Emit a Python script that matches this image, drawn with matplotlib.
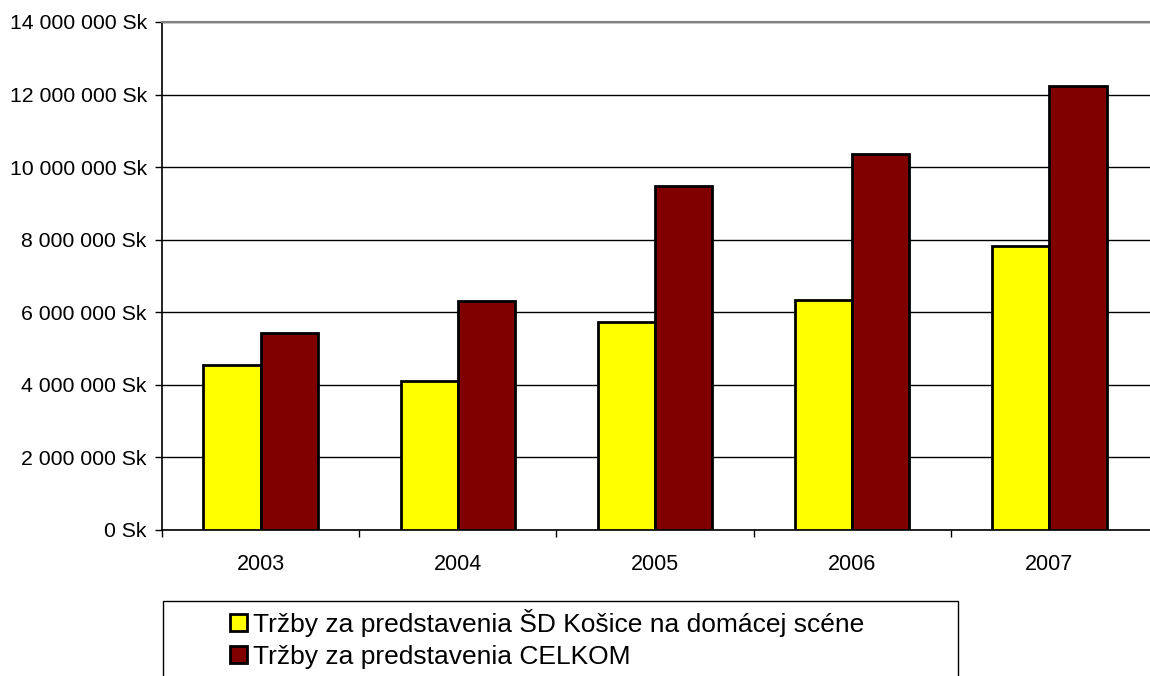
import numpy as np
import matplotlib
matplotlib.use('Agg')
import matplotlib.pyplot as plt
from matplotlib.patches import Rectangle
from matplotlib.ticker import FuncFormatter, FixedLocator

plt.rcParams['font.family'] = ['Liberation Sans', 'DejaVu Sans']

years = ['2003', '2004', '2005', '2006', '2007']
domace = [4550000, 4110000, 5740000, 6330000, 7820000]
celkom = [5420000, 6320000, 9490000, 10350000, 12240000]
labels = ['Tržby za predstavenia ŠD Košice na domácej scéne',
          'Tržby za predstavenia CELKOM']
colors = ['#FFFF00', '#800000']


def sk(v, pos):
    return '{:,}'.format(int(v)).replace(',', ' ') + ' Sk'


fig = plt.figure(figsize=(11.5, 6.76), dpi=100)
ax = fig.add_axes([0.1409, 0.216, 1.0 - 0.1409, 0.9675 - 0.216])

n = len(years)
x = np.arange(n)
w = 0.29
b1 = ax.bar(x - w/2, domace, w, color=colors[0], edgecolor='black',
            linewidth=2, label=labels[0], zorder=3)
b2 = ax.bar(x + w/2, celkom, w, color=colors[1], edgecolor='black',
            linewidth=2, label=labels[1], zorder=3)

ax.set_xlim(-0.5, n - 0.5 + 0.01)
ax.set_ylim(0, 14000000)
ax.set_yticks(np.arange(0, 14000001, 2000000))
ax.yaxis.set_major_formatter(FuncFormatter(sk))
ax.yaxis.grid(True, color='black', linewidth=1, zorder=0)

# labels at centres, tick marks on category borders
ax.set_xticks(x)
ax.set_xticklabels(years)
ax.xaxis.set_minor_locator(FixedLocator(np.arange(-0.5, n - 0.5, 1)))
ax.tick_params(axis='x', which='major', length=0, pad=17, labelsize=15.5)
ax.tick_params(axis='x', which='minor', length=5, direction='out', width=1)
ax.tick_params(axis='y', length=5, width=1, pad=6, labelsize=15.3)

for s in ['left', 'bottom']:
    ax.spines[s].set_color('black')
    ax.spines[s].set_linewidth(1.2)
ax.spines['top'].set_color('#808080')
ax.spines['top'].set_linewidth(1.5)
ax.spines['right'].set_visible(False)

fig.patches.append(Rectangle((163/1150, -0.1), (958 - 163)/1150, 0.1 + (676 - 601)/676,
                             transform=fig.transFigure, fill=False,
                             edgecolor='black', linewidth=1))
fig.legend(handles=[b1, b2], labels=labels, loc='upper left',
           bbox_to_anchor=(230/1150, 1 - 609/676), frameon=False,
           fontsize=19, handlelength=0.64, handleheight=0.64,
           handletextpad=0.22, labelspacing=0.3, borderpad=0,
           borderaxespad=0)

fig.savefig('out.png', dpi=100)
